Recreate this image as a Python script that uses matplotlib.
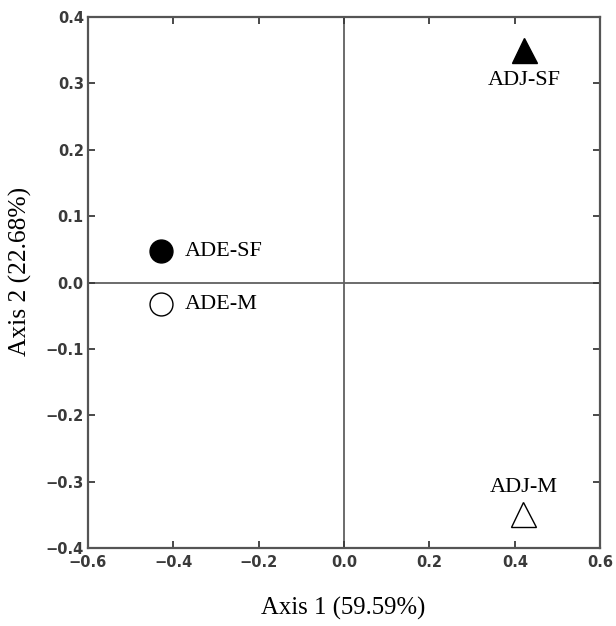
import matplotlib
matplotlib.use("Agg")
import matplotlib.pyplot as plt

labels = ["ADE-SF", "ADE-M", "ADJ-SF", "ADJ-M"]
axis1 = [-0.428, -0.428, 0.422, 0.42]
axis2 = [0.047, -0.033, 0.350, -0.349]
markers = ["o", "o", "^", "^"]
filled = [True, False, True, False]
label_pos = ["right", "right", "below", "above"]

fig = plt.figure(figsize=(6.16, 6.26), dpi=100)
ax = fig.add_axes([0.1429, 0.1246, 0.8313, 0.8482])

ax.axhline(0, color="#606060", lw=1.3, zorder=1)
ax.axvline(0, color="#606060", lw=1.3, zorder=1)

serif = "Liberation Serif"
for lab, x, y, m, f, pos in zip(labels, axis1, axis2, markers, filled, label_pos):
    ax.plot(x, y, marker=m, markersize=16.5 if m == "o" else 18,
            markerfacecolor="black" if f else "white",
            markeredgecolor="black", markeredgewidth=1.0, linestyle="none", zorder=3)
    if pos == "right":
        ax.text(x + 0.055, y, lab, ha="left", va="center", fontsize=16, family=serif)
    elif pos == "below":
        ax.text(x, y - 0.045, lab, ha="center", va="center", fontsize=16, family=serif)
    else:
        ax.text(x, y + 0.040, lab, ha="center", va="center", fontsize=16, family=serif)

ax.set_xlim(-0.6, 0.6)
ax.set_ylim(-0.4, 0.4)
ax.set_xticks([-0.6, -0.4, -0.2, 0.0, 0.2, 0.4, 0.6])
ax.set_yticks([-0.4, -0.3, -0.2, -0.1, 0.0, 0.1, 0.2, 0.3, 0.4])
ax.tick_params(direction="in", top=True, right=True, length=5, width=1.3,
               labelsize=10.5, colors="#3a3a3a", pad=3)
ax.tick_params(axis="x", pad=5)
for lbl in ax.get_xticklabels() + ax.get_yticklabels():
    lbl.set_fontweight("bold")
for s in ax.spines.values():
    s.set_color("#555555")
    s.set_linewidth(1.6)

fig.text(0.557, 0.028, "Axis 1 (59.59%)", ha="center", va="center", fontsize=17.8, family=serif)
fig.text(0.033, 0.566, "Axis 2 (22.68%)", ha="center", va="center", fontsize=18.4,
         family=serif, rotation=90)

fig.savefig("out.png", dpi=100)
